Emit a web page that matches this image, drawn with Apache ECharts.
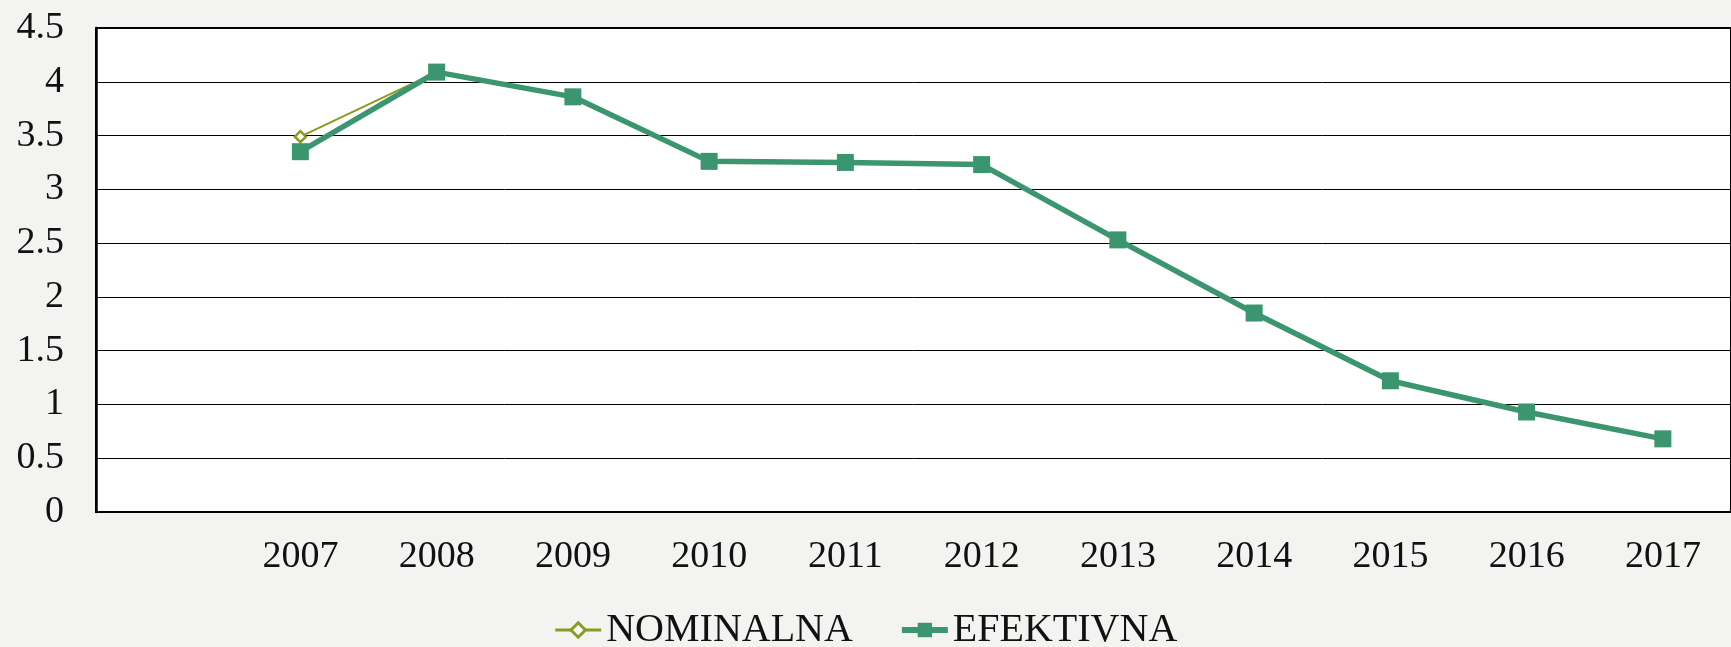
<!DOCTYPE html>
<html>
<head>
<meta charset="utf-8">
<script src="https://cdn.jsdelivr.net/npm/echarts@6/dist/echarts.min.js"></script>
<style>
  html, body { margin: 0; padding: 0; background: #f3f3f2; }
  #chart { width: 1731px; height: 647px; }
</style>
</head>
<body>
<div id="chart"></div>
<script>
// first slot is an empty category, as in the original sheet
const years = ['', '2007', '2008', '2009', '2010', '2011', '2012', '2013', '2014', '2015', '2016', '2017'];
const nominalna = [null, 3.49, 4.09, 3.86, 3.26, 3.25, 3.23, 2.53, 1.85, 1.22, 0.93, 0.68];
const efektivna = [null, 3.35, 4.09, 3.86, 3.26, 3.25, 3.23, 2.53, 1.85, 1.22, 0.93, 0.68];

const serif = '"Liberation Serif", "DejaVu Serif", serif';
const olive = '#8a9b22';
const green = '#3b9670';
const chart = echarts.init(document.getElementById('chart'));

chart.setOption({
  animation: false,
  backgroundColor: '#f3f3f2',
  textStyle: { fontFamily: serif },
  grid: {
    left: 96,
    right: -3,
    top: 28,
    bottom: 135,
    show: true,
    backgroundColor: '#fff',
    borderColor: '#000',
    borderWidth: 2
  },
  legend: {
    bottom: -8,
    left: 'center',
    itemWidth: 46,
    itemHeight: 18,
    itemGap: 46,
    textStyle: { fontSize: 40, color: '#111', fontFamily: serif },
    data: [
      {
        name: 'NOMINALNA',
        lineStyle: { width: 3, color: olive },
        itemStyle: { color: '#fff', borderColor: olive, borderWidth: 3 }
      },
      {
        name: 'EFEKTIVNA',
        lineStyle: { width: 6, color: green },
        itemStyle: { color: green }
      }
    ]
  },
  xAxis: {
    type: 'category',
    boundaryGap: true,
    data: years,
    axisLine: { lineStyle: { color: '#000', width: 2 } },
    axisTick: { show: false },
    axisLabel: { color: '#111', fontSize: 38, margin: 26 },
    splitLine: { show: false }
  },
  yAxis: {
    type: 'value',
    min: 0,
    max: 4.5,
    interval: 0.5,
    axisLine: { show: true, lineStyle: { color: '#000', width: 2.5 } },
    axisTick: { show: false },
    axisLabel: { color: '#111', fontSize: 38, margin: 32 },
    splitLine: { lineStyle: { color: '#000', width: 1 } }
  },
  series: [
    {
      name: 'NOMINALNA',
      type: 'line',
      data: nominalna,
      lineStyle: { width: 2, color: olive },
      symbol: 'diamond',
      symbolSize: 11,
      itemStyle: { color: '#fff', borderColor: olive, borderWidth: 2.5 },
      z: 2
    },
    {
      name: 'EFEKTIVNA',
      type: 'line',
      data: efektivna,
      lineStyle: { width: 5.5, color: green },
      symbol: 'rect',
      symbolSize: 17,
      itemStyle: { color: green },
      z: 3
    }
  ]
});
</script>
</body>
</html>
